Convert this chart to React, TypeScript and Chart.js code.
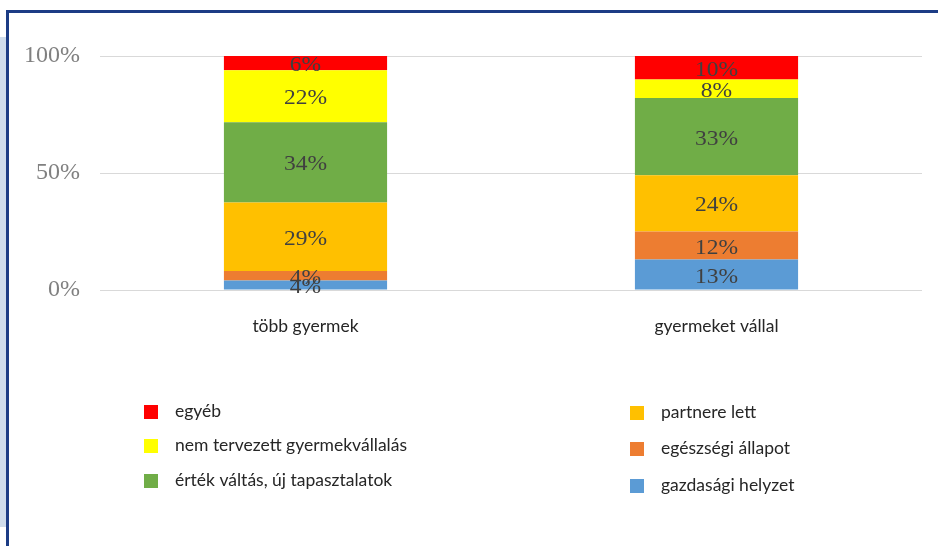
import React, { useEffect, useRef } from "react";
import { Chart, registerables } from "chart.js";

Chart.register(...registerables);

const categories = ["több gyermek", "gyermeket vállal"];
const seriesNames = [
  "gazdasági helyzet",
  "egészségi állapot",
  "partnere lett",
  "érték váltás, új tapasztalatok",
  "nem tervezett gyermekvállalás",
  "egyéb",
];
const gazdasagi = [4, 13];
const egeszsegi = [4, 12];
const partnere = [29, 24];
const ertek = [34, 33];
const nemTervezett = [22, 8];
const egyeb = [6, 10];
const yTicks = [0, 50, 100];

const seriesValues = [gazdasagi, egeszsegi, partnere, ertek, nemTervezett, egyeb];
const seriesColors = ["#5b9bd5", "#ed7d31", "#ffc000", "#70ad47", "#ffff00", "#ff0000"];

// legend columns (indices into seriesNames)
const legendLeft = [5, 4, 3];
const legendRight = [2, 1, 0];

const SANS = "Lato, 'Noto Sans', sans-serif";
const SERIF = "'Liberation Serif', 'DejaVu Serif', serif";

const totals = categories.map((_, i) => seriesValues.reduce((s, arr) => s + arr[i], 0));

const dataLabelPlugin = {
  id: "dataLabels",
  afterDatasetsDraw(chart: any) {
    const ctx = chart.ctx;
    chart.data.datasets.forEach((ds: any, di: number) => {
      const meta = chart.getDatasetMeta(di);
      meta.data.forEach((el: any, i: number) => {
        const p = el.getProps(["x", "y", "base"], true);
        const raw = ds.rawValues[i];
        const cy = (p.y + p.base) / 2 + 2.5;
        ctx.save();
        ctx.translate(p.x, cy);
        ctx.scale(1.12, 1);
        ctx.font = `21px ${SERIF}`;
        ctx.fillStyle = "#404040";
        ctx.textAlign = "center";
        ctx.textBaseline = "middle";
        ctx.fillText(`${raw}%`, 0, 0);
        ctx.restore();
      });
    });
  },
};

const legendPlugin = {
  id: "customLegend",
  afterDraw(chart: any) {
    const ctx = chart.ctx;
    ctx.save();
    ctx.font = `17.5px ${SANS}`;
    ctx.textAlign = "left";
    ctx.textBaseline = "middle";
    const cols = [
      { items: legendLeft, boxX: 144, textX: 175, rows: [412, 446, 481] },
      { items: legendRight, boxX: 630, textX: 661, rows: [413, 449, 486] },
    ];
    cols.forEach((c) => {
      c.items.forEach((si, r) => {
        const y = c.rows[r];
        ctx.fillStyle = seriesColors[si];
        ctx.fillRect(c.boxX, y - 7, 14, 14);
        ctx.fillStyle = "#262626";
        ctx.fillText(seriesNames[si], c.textX, y - 1);
      });
    });
    ctx.restore();
  },
};

export default function App() {
  const ref = useRef<HTMLCanvasElement | null>(null);

  useEffect(() => {
    if (!ref.current) return;
    const chart = new Chart(ref.current, {
      type: "bar",
      data: {
        labels: categories,
        datasets: seriesValues.map((vals, si) => ({
          label: seriesNames[si],
          data: vals.map((v, i) => (v / totals[i]) * 100),
          rawValues: vals,
          backgroundColor: seriesColors[si],
          borderWidth: 0,
          categoryPercentage: 1,
          barPercentage: 0.397,
        })) as any,
      },
      options: {
        responsive: false,
        animation: false,
        layout: { padding: { left: 0, right: 16, top: 56, bottom: 196 } },
        plugins: {
          legend: { display: false },
          tooltip: { enabled: false },
          title: { display: false },
        },
        scales: {
          x: {
            stacked: true,
            grid: { display: false, drawTicks: false },
            border: { display: false },
            ticks: {
              padding: 26,
              color: "#262626",
              font: { family: SANS, size: 17.5 },
            },
            afterFit(scale: any) {
              scale.height = 60;
            },
          },
          y: {
            stacked: true,
            min: 0,
            max: 100,
            afterBuildTicks(scale: any) {
              scale.ticks = yTicks.map((v) => ({ value: v }));
            },
            grid: { color: "#d9d9d9", lineWidth: 1, drawTicks: false },
            border: { display: false },
            ticks: {
              padding: 20,
              color: "#808080",
              font: { family: SERIF, size: 24 },
              callback: (v: any) => `${v}%`,
            },
            afterFit(scale: any) {
              scale.width = 100;
            },
          },
        },
      },
      plugins: [dataLabelPlugin, legendPlugin],
    });
    return () => chart.destroy();
  }, []);

  return (
    <div style={{ position: "absolute", left: 0, top: 0, width: 938, height: 546, background: "#fff", overflow: "hidden" }}>
      <div style={{ position: "absolute", left: 0, top: 37, width: 6, height: 490, background: "#cfdcec" }} />
      <div
        style={{
          position: "absolute",
          left: 6,
          top: 10,
          width: 940,
          height: 540,
          borderTop: "3px solid #1c3c85",
          borderLeft: "3px solid #1c3c85",
        }}
      />
      <canvas ref={ref} width={938} height={546} style={{ position: "absolute", left: 0, top: 0 }} />
    </div>
  );
}
